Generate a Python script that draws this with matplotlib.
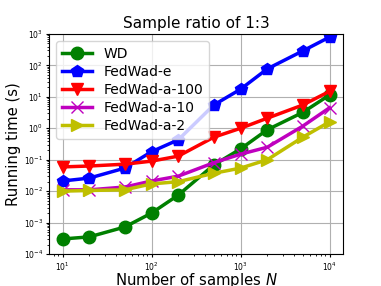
import matplotlib.pyplot as plt

# data
N = [10, 20, 50, 100, 200, 500, 1000, 2000, 5000, 10000]
wd = [3e-4, 3.5e-4, 7.2e-4, 2e-3, 7.5e-3, 0.068, 0.22, 0.9, 3.2, 11.5]
fedwad_e = [0.021, 0.026, 0.054, 0.18, 0.43, 5.5, 17.5, 78, 290, 800]
fedwad_a100 = [0.059, 0.063, 0.072, 0.09, 0.13, 0.52, 1.0, 2.1, 5.5, 15]
fedwad_a10 = [0.011, 0.011, 0.0135, 0.021, 0.03, 0.08, 0.15, 0.25, 1.17, 4.5]
fedwad_a2 = [0.01, 0.0105, 0.011, 0.017, 0.02, 0.037, 0.054, 0.1, 0.52, 1.6]

fig = plt.figure(figsize=(3.81, 2.86), dpi=100)
ax = fig.add_axes([0.129, 0.112, 0.771, 0.769])

kw = dict(lw=2.5, ms=9)
ax.plot(N, wd, 'g-o', label='WD', **kw)
ax.plot(N, fedwad_e, 'b-p', label='FedWad-e', **kw)
ax.plot(N, fedwad_a100, 'r-v', label='FedWad-a-100', **kw)
ax.plot(N, fedwad_a10, 'm-x', label='FedWad-a-10', **kw)
ax.plot(N, fedwad_a2, 'y->', label='FedWad-a-2', **kw)

ax.set_xscale('log')
ax.set_yscale('log')
ax.set_ylim(1e-4, 1e3)
ax.grid(True, which='major', color='#b0b0b0', lw=0.8)
ax.tick_params(which='major', labelsize=5.5, length=2.5, pad=2)
ax.tick_params(which='minor', length=1.5)
ax.set_title('Sample ratio of 1:3', fontsize=11, pad=4)
ax.set_xlabel('Number of samples $N$', fontsize=10.7)
ax.set_ylabel('Running time (s)', fontsize=10.7)
ax.xaxis.set_label_coords(0.5, -0.078)
ax.yaxis.set_label_coords(-0.095, 0.5)
ax.legend(loc='upper left', fontsize=10, handlelength=2.2, borderpad=0.4,
          labelspacing=0.3)

fig.savefig('out.png', dpi=100)
